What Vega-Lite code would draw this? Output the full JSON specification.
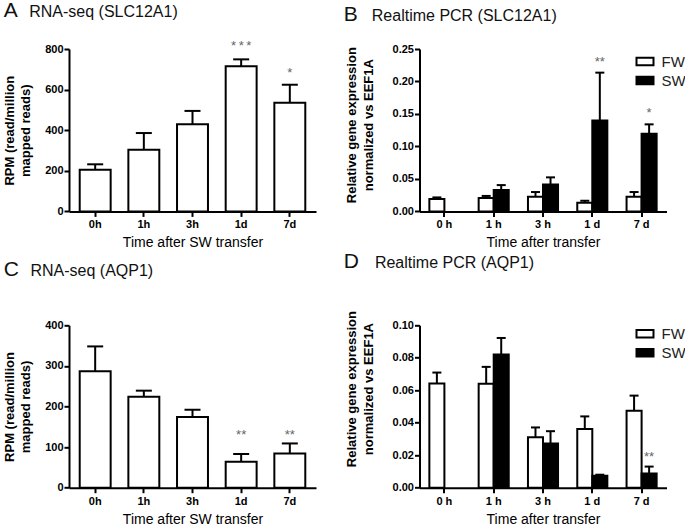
{
  "$schema": "https://vega.github.io/schema/vega-lite/v6.json",
  "background": "white",
  "autosize": {"type": "pad"},
  "padding": {"left": 3, "top": 0, "right": 2, "bottom": 2},
  "config": {
    "font": "Liberation Sans",
    "view": {"stroke": null},
    "axis": {"domainColor": "black", "domainWidth": 2, "tickColor": "black", "tickWidth": 2, "tickSize": 5, "labelFont": "Liberation Sans", "labelFontWeight": "bold", "labelFontSize": 11, "labelColor": "black", "labelOverlap": false, "grid": false, "titleFont": "Liberation Sans", "titleColor": "black"},
    "axisY": {"labelPadding": 1, "titleFontWeight": "bold", "titleFontSize": 13, "titleLineHeight": 16.5},
    "axisX": {"labelAngle": 0, "labelPadding": 2.5, "titleFontWeight": "normal", "titleFontSize": 14, "titlePadding": 6},
    "title": {"anchor": "start", "frame": "group", "font": "Liberation Sans", "fontSize": 21, "fontWeight": "normal", "color": "#111", "subtitleFont": "Liberation Sans", "subtitleFontSize": 16, "subtitleFontWeight": "normal", "subtitleColor": "#111", "subtitlePadding": -17},
    "legend": {"padding": 0}
  },
  "datasets": {
    "a": [
      {"t": "0h", "v": 205, "hi": 232},
      {"t": "1h", "v": 304, "hi": 386},
      {"t": "3h", "v": 429, "hi": 495},
      {"t": "1d", "v": 715, "hi": 749},
      {"t": "7d", "v": 535, "hi": 624}
    ],
    "as": [
      {"t": "1d", "y": 830, "s": "*\u2009*\u2009*"},
      {"t": "7d", "y": 698, "s": "*"}
    ],
    "b": [
      {"t": "0 h", "g": "FW", "v": 0.019, "hi": 0.0215},
      {"t": "1 h", "g": "FW", "v": 0.0205, "hi": 0.0238},
      {"t": "1 h", "g": "SW", "v": 0.0329, "hi": 0.0405},
      {"t": "3 h", "g": "FW", "v": 0.0226, "hi": 0.0298},
      {"t": "3 h", "g": "SW", "v": 0.0416, "hi": 0.0524},
      {"t": "1 d", "g": "FW", "v": 0.0133, "hi": 0.0164},
      {"t": "1 d", "g": "SW", "v": 0.140, "hi": 0.2136},
      {"t": "7 d", "g": "FW", "v": 0.0226, "hi": 0.0298},
      {"t": "7 d", "g": "SW", "v": 0.1196, "hi": 0.134}
    ],
    "bs": [
      {"t": "1 d", "g": "SW", "y": 0.235, "s": "**"},
      {"t": "7 d", "g": "SW", "y": 0.1555, "s": "*"}
    ],
    "c": [
      {"t": "0h", "v": 287, "hi": 348},
      {"t": "1h", "v": 224, "hi": 239},
      {"t": "3h", "v": 174, "hi": 192},
      {"t": "1d", "v": 64, "hi": 83},
      {"t": "7d", "v": 84, "hi": 109}
    ],
    "cs": [
      {"t": "1d", "y": 138, "s": "**"},
      {"t": "7d", "y": 138, "s": "**"}
    ],
    "d": [
      {"t": "0 h", "g": "FW", "v": 0.0641, "hi": 0.0709},
      {"t": "1 h", "g": "FW", "v": 0.064, "hi": 0.0744},
      {"t": "1 h", "g": "SW", "v": 0.082, "hi": 0.0922},
      {"t": "3 h", "g": "FW", "v": 0.0311, "hi": 0.0371},
      {"t": "3 h", "g": "SW", "v": 0.0272, "hi": 0.0348},
      {"t": "1 d", "g": "FW", "v": 0.0361, "hi": 0.0439},
      {"t": "1 d", "g": "SW", "v": 0.0074, "hi": 0.008},
      {"t": "7 d", "g": "FW", "v": 0.0474, "hi": 0.0567},
      {"t": "7 d", "g": "SW", "v": 0.0087, "hi": 0.013}
    ],
    "ds": [
      {"t": "7 d", "g": "SW", "y": 0.0207, "s": "**"}
    ]
  },
  "columns": 2,
  "spacing": {"row": 113.3, "column": 103.5},
  "bounds": "flush",
  "resolve": {"scale": {"x": "independent", "y": "independent", "xOffset": "independent", "fill": "independent"}, "legend": {"fill": "independent"}},
  "concat": [
    {
      "width": 247, "height": 162.4,
      "title": {"text": "A", "subtitle": "\u200b\u00a0\u00a0\u00a0\u00a0\u00a0\u2009RNA-seq (SLC12A1)", "dx": -65.2, "offset": 18.5},
      "encoding": {
        "x": {"field": "t", "type": "nominal", "sort": null, "scale": {"domain": ["0h", "1h", "3h", "1d", "7d"], "paddingInner": 0.364, "paddingOuter": 0.22}, "axis": {"title": "Time after SW transfer"}}
      },
      "layer": [
        {"data": {"name": "a"}, "mark": {"type": "bar", "fill": "white", "stroke": "black", "strokeWidth": 2},
         "encoding": {"y": {"field": "v", "type": "quantitative", "scale": {"domain": [0, 800], "nice": false}, "axis": {"values": [0, 200, 400, 600, 800], "tickCount": 20, "labelOverlap": false, "title": ["RPM (read/million", "mapped reads)"], "titlePadding": 12}}}},
        {"data": {"name": "a"}, "mark": {"type": "rule", "strokeWidth": 2, "color": "black"},
         "encoding": {"y": {"field": "v", "type": "quantitative"}, "y2": {"field": "hi"}}},
        {"data": {"name": "a"}, "mark": {"type": "tick", "thickness": 2, "size": 16, "color": "black", "opacity": 1},
         "encoding": {"y": {"field": "hi", "type": "quantitative"}}},
        {"data": {"name": "as"}, "mark": {"type": "text", "fontSize": 13, "color": "#666", "baseline": "middle", "dy": 3},
         "encoding": {"y": {"field": "y", "type": "quantitative"}, "text": {"field": "s"}}}
      ]
    },
    {
      "width": 247, "height": 162.4,
      "title": {"text": "B", "subtitle": "\u200b\u00a0\u00a0\u00a0\u00a0\u00a0\u00a0\u200aRealtime PCR (SLC12A1)", "dx": -75.7, "offset": 18.5},
      "encoding": {
        "x": {"field": "t", "type": "nominal", "sort": null, "scale": {"domain": ["0 h", "1 h", "3 h", "1 d", "7 d"], "paddingInner": 0.39, "paddingOuter": 0.2}, "axis": {"title": "Time after transfer"}},
        "xOffset": {"field": "g", "type": "nominal", "scale": {"domain": ["FW", "SW"]}}
      },
      "layer": [
        {"data": {"name": "b"}, "mark": {"type": "bar", "stroke": "black", "strokeWidth": 2},
         "encoding": {
           "y": {"field": "v", "type": "quantitative", "scale": {"domain": [0, 0.25], "nice": false}, "axis": {"values": [0, 0.05, 0.1, 0.15, 0.2, 0.25], "tickCount": 20, "labelOverlap": false, "format": ".2f", "title": ["Relative gene expression", "normalized vs EEF1A"], "titlePadding": 17, "titleY": 75.7}},
           "fill": {"field": "g", "type": "nominal", "scale": {"domain": ["FW", "SW"], "range": ["white", "black"]},
             "legend": {"orient": "none", "legendX": 216, "legendY": 3, "title": null, "symbolType": "M-1,-0.45H1V0.45H-1Z", "symbolSize": 289, "symbolStrokeColor": "black", "symbolStrokeWidth": 2, "labelFont": "Liberation Sans", "labelFontSize": 15, "labelColor": "#222", "labelOffset": 7, "rowPadding": 1, "padding": 0}}
         }},
        {"data": {"name": "b"}, "mark": {"type": "rule", "strokeWidth": 2, "color": "black"},
         "encoding": {"y": {"field": "v", "type": "quantitative"}, "y2": {"field": "hi"}}},
        {"data": {"name": "b"}, "mark": {"type": "tick", "thickness": 2, "size": 9, "color": "black", "opacity": 1},
         "encoding": {"y": {"field": "hi", "type": "quantitative"}}},
        {"data": {"name": "bs"}, "mark": {"type": "text", "fontSize": 13, "color": "#666", "baseline": "middle", "dy": 3},
         "encoding": {"y": {"field": "y", "type": "quantitative"}, "text": {"field": "s"}}}
      ]
    },
    {
      "width": 247, "height": 162.4,
      "title": {"text": "C", "subtitle": "\u200b\u00a0\u00a0\u00a0\u00a0\u00a0\u00a0RNA-seq (AQP1)", "dx": -65.2, "offset": 39},
      "encoding": {
        "x": {"field": "t", "type": "nominal", "sort": null, "scale": {"domain": ["0h", "1h", "3h", "1d", "7d"], "paddingInner": 0.364, "paddingOuter": 0.22}, "axis": {"title": "Time after SW transfer"}}
      },
      "layer": [
        {"data": {"name": "c"}, "mark": {"type": "bar", "fill": "white", "stroke": "black", "strokeWidth": 2},
         "encoding": {"y": {"field": "v", "type": "quantitative", "scale": {"domain": [0, 400], "nice": false}, "axis": {"values": [0, 100, 200, 300, 400], "tickCount": 20, "labelOverlap": false, "title": ["RPM (read/million", "mapped reads)"], "titlePadding": 12}}}},
        {"data": {"name": "c"}, "mark": {"type": "rule", "strokeWidth": 2, "color": "black"},
         "encoding": {"y": {"field": "v", "type": "quantitative"}, "y2": {"field": "hi"}}},
        {"data": {"name": "c"}, "mark": {"type": "tick", "thickness": 2, "size": 16, "color": "black", "opacity": 1},
         "encoding": {"y": {"field": "hi", "type": "quantitative"}}},
        {"data": {"name": "cs"}, "mark": {"type": "text", "fontSize": 13, "color": "#666", "baseline": "middle", "dy": 3},
         "encoding": {"y": {"field": "y", "type": "quantitative"}, "text": {"field": "s"}}}
      ]
    },
    {
      "width": 247, "height": 162.4,
      "title": {"text": "D", "subtitle": "\u200b\u00a0\u00a0\u00a0\u00a0\u00a0\u00a0\u00a0Realtime PCR (AQP1)", "dx": -75.7, "offset": 39},
      "encoding": {
        "x": {"field": "t", "type": "nominal", "sort": null, "scale": {"domain": ["0 h", "1 h", "3 h", "1 d", "7 d"], "paddingInner": 0.39, "paddingOuter": 0.2}, "axis": {"title": "Time after transfer"}},
        "xOffset": {"field": "g", "type": "nominal", "scale": {"domain": ["FW", "SW"]}}
      },
      "layer": [
        {"data": {"name": "d"}, "mark": {"type": "bar", "stroke": "black", "strokeWidth": 2},
         "encoding": {
           "y": {"field": "v", "type": "quantitative", "scale": {"domain": [0, 0.1], "nice": false}, "axis": {"values": [0, 0.02, 0.04, 0.06, 0.08, 0.1], "tickCount": 20, "format": ".2f", "labelOverlap": false, "title": ["Relative gene expression", "normalized vs EEF1A"], "titlePadding": 17, "titleY": 63.3}},
           "fill": {"field": "g", "type": "nominal", "scale": {"domain": ["FW", "SW"], "range": ["white", "black"]},
             "legend": {"orient": "none", "legendX": 216, "legendY": -1, "title": null, "symbolType": "M-1,-0.45H1V0.45H-1Z", "symbolSize": 289, "symbolStrokeColor": "black", "symbolStrokeWidth": 2, "labelFont": "Liberation Sans", "labelFontSize": 15, "labelColor": "#222", "labelOffset": 7, "rowPadding": 1, "padding": 0}}
         }},
        {"data": {"name": "d"}, "mark": {"type": "rule", "strokeWidth": 2, "color": "black"},
         "encoding": {"y": {"field": "v", "type": "quantitative"}, "y2": {"field": "hi"}}},
        {"data": {"name": "d"}, "mark": {"type": "tick", "thickness": 2, "size": 9, "color": "black", "opacity": 1},
         "encoding": {"y": {"field": "hi", "type": "quantitative"}}},
        {"data": {"name": "ds"}, "mark": {"type": "text", "fontSize": 13, "color": "#666", "baseline": "middle", "dy": 3},
         "encoding": {"y": {"field": "y", "type": "quantitative"}, "text": {"field": "s"}}}
      ]
    }
  ]
}
